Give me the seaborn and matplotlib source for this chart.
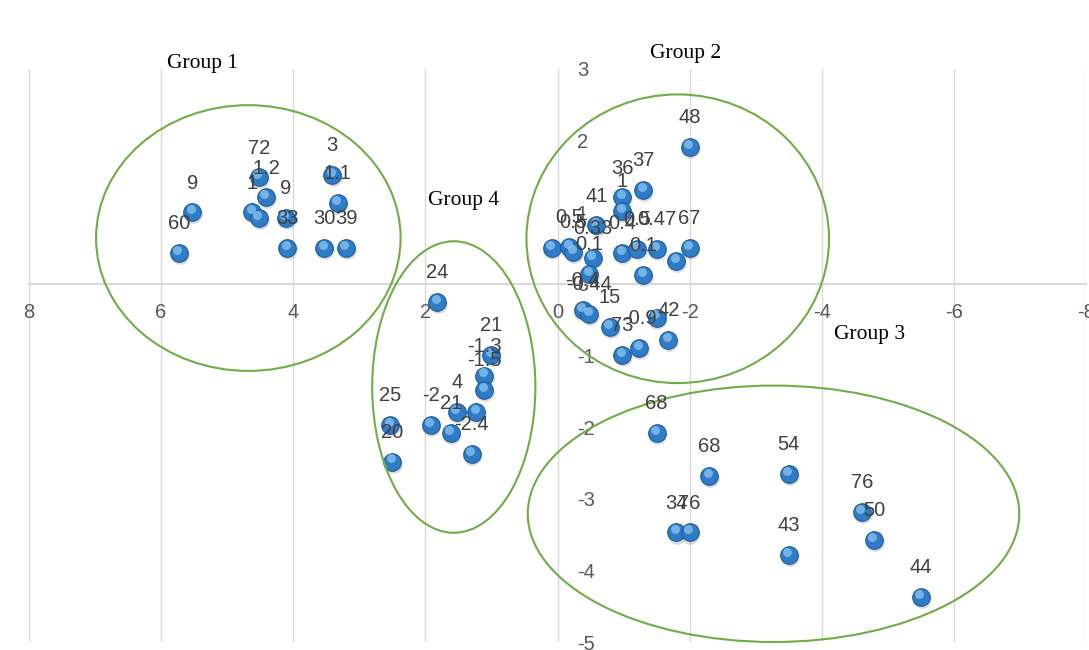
import numpy as np
import pandas as pd
import matplotlib
matplotlib.use('Agg')
import matplotlib.pyplot as plt
import matplotlib.transforms as mtransforms
from matplotlib.patches import Ellipse
import seaborn as sns

# Point coordinates and data labels, one set per group
group1_x = [5.73, 5.53, 4.52, 4.41, 4.62, 4.52, 4.11, 4.09, 3.53, 3.20, 3.41, 3.33]
group1_y = [0.43, 1.00, 1.49, 1.21, 1.00, 0.92, 0.92, 0.50, 0.50, 0.50, 1.52, 1.13]
group1_lab = ['60', '9', '72', '1.2', '1', '', '9', '33', '30', '39', '3', '1.1']

group2_x = [0.09, -0.18, -0.24, -0.53, -0.59, -0.48, -0.98, -0.98, -1.30, -0.98, -1.20, -1.50,
            -1.80, -2.00, -2.00, -1.30, -0.38, -0.48, -0.79, -0.98, -1.24, -1.50, -1.68]
group2_y = [0.50, 0.52, 0.45, 0.36, 0.82, 0.14, 1.21, 1.02, 1.31, 0.43, 0.49, 0.49,
            0.32, 0.50, 1.91, 0.13, -0.36, -0.42, -0.60, -0.99, -0.89, -0.47, -0.78]
group2_lab = ['', '0.5', '0.5', '0.33', '41', '0.1', '36', '1', '37', '0.4', '0.5', '0.47',
              '', '67', '48', '0.1', '-0.4', '-0.44', '15', '73', '-0.9', '', '42']

group3_x = [-1.50, -2.30, -3.50, -1.80, -2.00, -3.50, -4.61, -4.79, -5.50]
group3_y = [-2.08, -2.68, -2.65, -3.47, -3.47, -3.78, -3.18, -3.57, -4.37]
group3_lab = ['68', '68', '54', '34', '76', '43', '76', '50', '44']

group4_x = [1.82, 1.00, 1.11, 1.11, 1.23, 1.52, 1.92, 1.61, 2.53, 2.50, 1.30]
group4_y = [-0.25, -0.99, -1.28, -1.48, -1.79, -1.79, -1.97, -2.08, -1.97, -2.48, -2.37]
group4_lab = ['24', '21', '-1.3', '-1.5', '', '4', '-2', '21', '25', '20', '-2.4']

x_ticks = [8, 6, 4, 2, 0, -2, -4, -6, -8]
y_ticks = [3, 2, 1, 0, -1, -2, -3, -4, -5]

# Group outlines: name, centre, width, height, label position
groups = [
    ('Group 1', (4.68, 0.64), 4.61, 3.71, (5.38, 3.08)),
    ('Group 2', (-1.82, 0.63), 4.58, 4.03, (-1.94, 3.21)),
    ('Group 3', (-3.27, -3.21), 7.44, 3.58, (-4.73, -0.71)),
    ('Group 4', (1.57, -1.44), 2.47, 4.07, (1.42, 1.17)),
]

df = pd.DataFrame({
    'x': group1_x + group2_x + group3_x + group4_x,
    'y': group1_y + group2_y + group3_y + group4_y,
    'label': group1_lab + group2_lab + group3_lab + group4_lab,
})

sns.set_style('white')
plt.rcParams['font.family'] = ['Liberation Sans', 'DejaVu Sans']

fig = plt.figure(figsize=(10.89, 6.5), dpi=100)
ax = fig.add_axes([29 / 1089, 8 / 650, 1057 / 1089, 573 / 650])

# Shadow, body and highlight give the markers a rounded look
shadow = mtransforms.offset_copy(ax.transData, fig=fig, x=0.6, y=-1.6, units='points')
shine = mtransforms.offset_copy(ax.transData, fig=fig, x=-1.2, y=2.2, units='points')
ax.scatter(df['x'], df['y'], s=180, color='#9a9a9a', alpha=0.35, linewidth=0,
           transform=shadow, zorder=2)
sns.scatterplot(data=df, x='x', y='y', s=160, color='#2f7cc6', edgecolor='#1f5c9c',
                linewidth=0.8, ax=ax, zorder=3, legend=False)
ax.scatter(df['x'], df['y'], s=42, color='#8cc3ef', alpha=0.75, linewidth=0,
           transform=shine, zorder=4)

for _, row in df.iterrows():
    if row['label']:
        ax.annotate(row['label'], (row['x'], row['y']), xytext=(0, 17),
                    textcoords='offset points', ha='center', va='baseline',
                    fontsize=14.5, color='#404040', zorder=6)

for name, centre, w, h, lab_pos in groups:
    ax.add_patch(Ellipse(centre, w, h, fill=False, edgecolor='#70ad47', lw=1.5,
                         zorder=5, clip_on=False))
    ax.text(lab_pos[0], lab_pos[1], name, family='Liberation Serif', fontsize=15.5,
            color='black', ha='center', va='center', clip_on=False, zorder=6)

ax.set_xlim(8, -8)
ax.set_ylim(-5, 3)
ax.set_xticks(x_ticks)
ax.set_yticks(y_ticks)
ax.set_xticklabels([str(t) for t in x_ticks])
ax.set_yticklabels([str(t) for t in y_ticks])
ax.set_xlabel('')
ax.set_ylabel('')

# Axes cross at the origin, labels sit beside the axis lines
ax.spines['bottom'].set_position(('data', 0))
ax.spines['bottom'].set_color('#d9d9d9')
ax.spines['bottom'].set_linewidth(1.5)
ax.spines['right'].set_position(('data', 0))
ax.spines['right'].set_color('none')
ax.spines['left'].set_visible(False)
ax.spines['top'].set_visible(False)
ax.yaxis.tick_right()
ax.tick_params(axis='x', length=0, pad=14, labelsize=14.5, labelcolor='#595959')
ax.tick_params(axis='y', length=0, pad=14, labelsize=14.5, labelcolor='#595959')
ax.grid(axis='x', color='#d9d9d9', lw=1)
ax.grid(axis='y', visible=False)
ax.set_axisbelow(True)

fig.savefig('out.png', dpi=100)
